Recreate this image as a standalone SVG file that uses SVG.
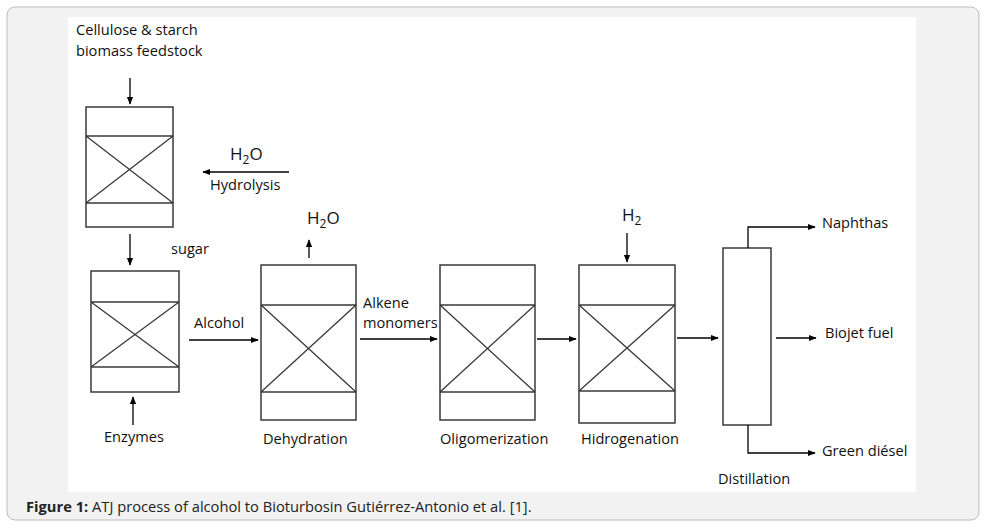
<svg xmlns="http://www.w3.org/2000/svg" width="988" height="527" viewBox="0 0 988 527">
<defs><marker id="a" viewBox="0 0 10 10" refX="9" refY="5" markerWidth="6" markerHeight="6" orient="auto"><path d="M0,1 L10,5 L0,9z" fill="#000"/></marker></defs>
<style>.b{fill:#fff;stroke:#3a3a3a;stroke-width:1.5}.l{stroke:#3a3a3a;stroke-width:1.3;fill:none}.c{stroke:#000;stroke-width:1.3;fill:none;marker-end:url(#a)}text{font-family:"Open Sans","Liberation Sans",sans-serif;font-size:14.6px;fill:#111}.h{font-size:17px}.s{font-size:12px}.cap{font-size:14.7px;fill:#222}</style>
<rect x="7" y="7" width="972" height="513" rx="8" fill="#f2f2f2" stroke="#bdbdbd"/>
<rect x="68" y="17" width="848" height="475" fill="#fff"/>
<g id="r1"><rect class="b" x="86" y="107" width="87" height="120"/><path class="l" d="M86 136H173M86 203H173M86 136L173 203M173 136L86 203"/></g>
<g id="r2"><rect class="b" x="91" y="271" width="88" height="121"/><path class="l" d="M91 302H179M91 367H179M91 302L179 367M179 302L91 367"/></g>
<g id="r3"><rect class="b" x="261" y="265" width="95" height="155"/><path class="l" d="M261 305H356M261 392H356M261 305L356 392M356 305L261 392"/></g>
<g id="r4"><rect class="b" x="440" y="265" width="95" height="155"/><path class="l" d="M440 305H535M440 392H535M440 305L535 392M535 305L440 392"/></g>
<g id="r5"><rect class="b" x="579" y="265" width="96" height="158"/><path class="l" d="M579 305H675M579 391H675M579 305L675 391M675 305L579 391"/></g>
<g id="col"><rect class="b" x="723" y="248" width="48" height="177"/></g>
<g id="connectors">
<path class="c" d="M130 78V104"/><path class="c" d="M130 234V265"/><path class="c" d="M133 425V397"/>
<path class="c" d="M289 172H203"/><path class="c" d="M189 340H258"/><path class="c" d="M360 339H437"/>
<path class="c" d="M537 339H576"/><path class="c" d="M677 338H718"/><path class="c" d="M776 338H816"/>
<path class="c" d="M748 248V227H815"/><path class="c" d="M748 425V453H815"/>
<path class="c" d="M309 258V240"/><path class="c" d="M627 233V262"/>
</g>
<g id="labels">
<text x="76" y="35">Cellulose &amp; starch</text><text x="76" y="56">biomass feedstock</text>
<text class="h" x="230" y="160">H<tspan class="s" dy="4">2</tspan><tspan dy="-4">O</tspan></text>
<text x="210" y="190">Hydrolysis</text>
<text x="171" y="254">sugar</text>
<text class="h" x="307" y="224">H<tspan class="s" dy="4">2</tspan><tspan dy="-4">O</tspan></text>
<text class="h" x="622" y="221">H<tspan class="s" dy="4">2</tspan></text>
<text x="194" y="328">Alcohol</text>
<text x="363" y="308">Alkene</text><text x="363" y="328">monomers</text>
<text x="104" y="442">Enzymes</text><text x="263" y="444">Dehydration</text>
<text x="440" y="444">Oligomerization</text><text x="581" y="444">Hidrogenation</text>
<text x="822" y="228">Naphthas</text><text x="825" y="338">Biojet fuel</text>
<text x="822" y="456">Green diésel</text><text x="718" y="484">Distillation</text>
<text class="cap" x="26" y="512"><tspan font-weight="bold">Figure 1:</tspan> ATJ process of alcohol to Bioturbosin Gutiérrez-Antonio et al. [1].</text>
</g>
</svg>
